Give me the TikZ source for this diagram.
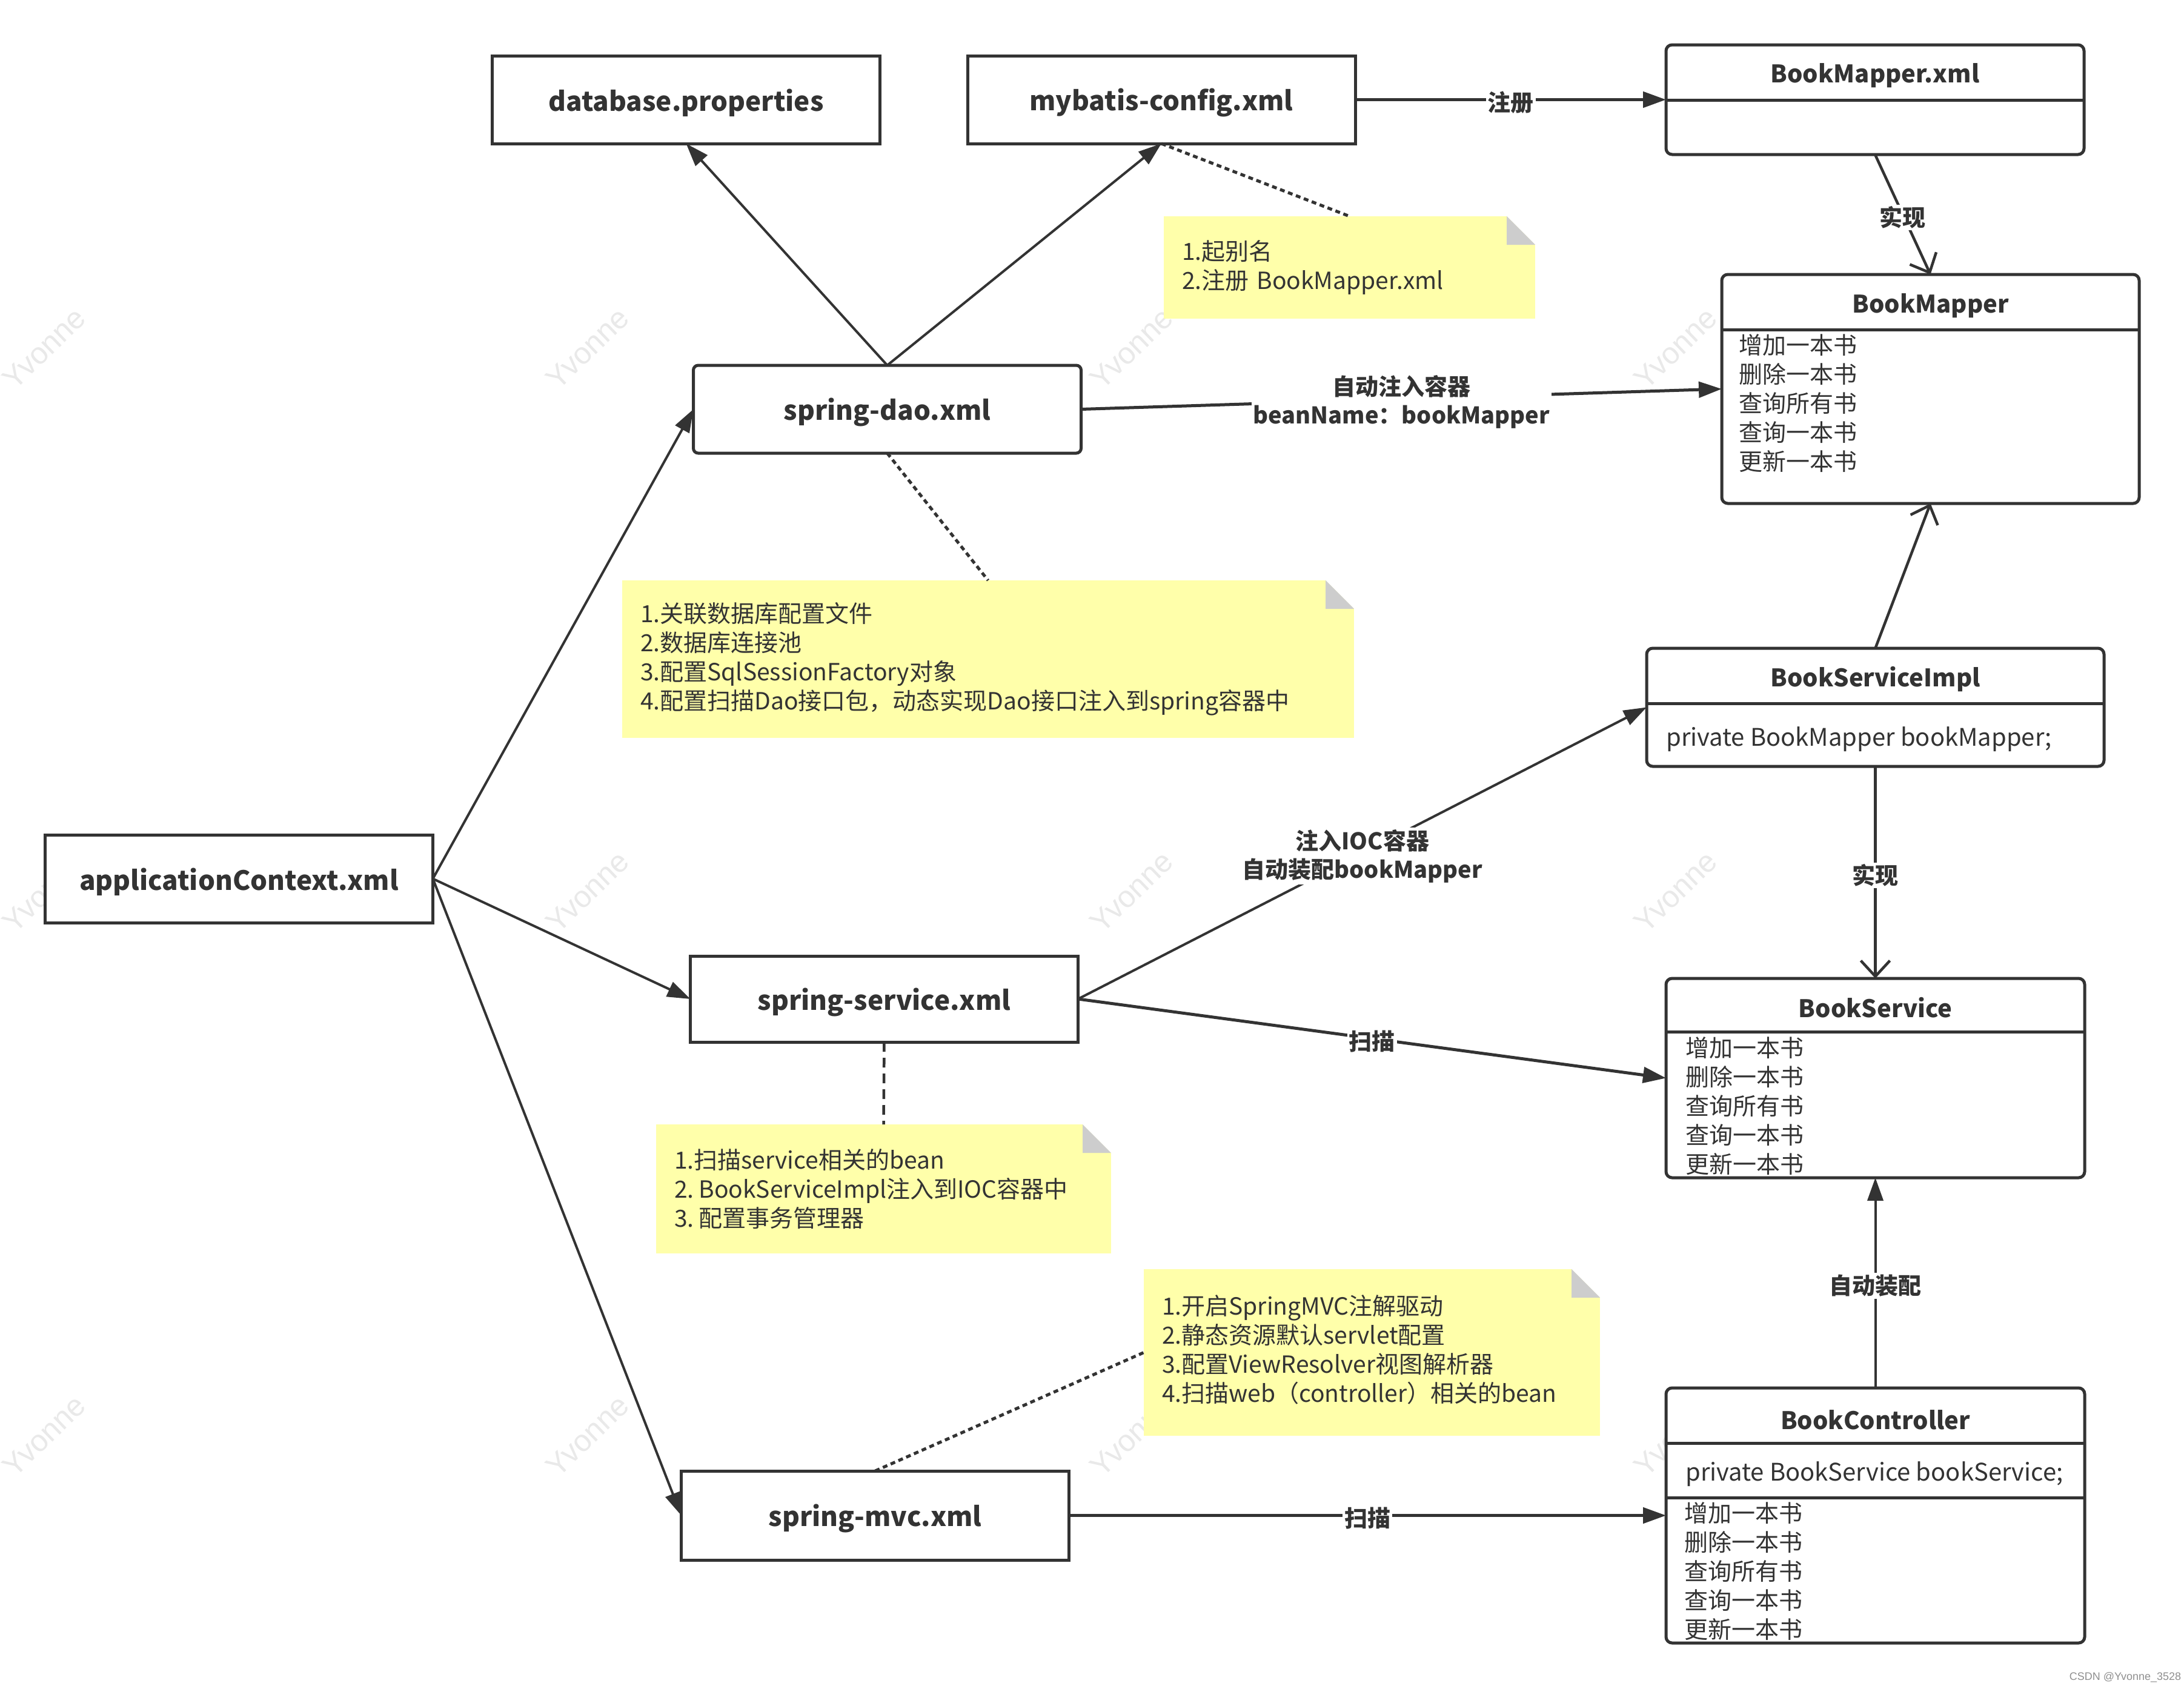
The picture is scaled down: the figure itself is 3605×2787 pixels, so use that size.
\documentclass[tikz,border=0pt]{standalone}
\usepackage{fontspec}
\setmainfont{Noto Sans CJK SC}
\newfontfamily\wmfont{Liberation Sans}
\usetikzlibrary{arrows.meta}
\definecolor{ink}{HTML}{333333}
\definecolor{noteyellow}{HTML}{FFFFAA}
\definecolor{foldgray}{HTML}{CDCDCD}
\definecolor{wmgray}{HTML}{E9E9E9}
\newcommand{\lowtext}[1]{\raisebox{-5pt}[\height][\depth]{#1}}
\begin{document}
\begin{tikzpicture}[x=1pt,y=-1pt,
  xmlbox/.style={draw=ink, line width=5pt, fill=white, minimum width=640pt, minimum height=145pt,
    inner sep=0pt, outer sep=0pt, font=\fontsize{44}{52}\selectfont\bfseries, text=ink},
  classbox/.style={draw=ink, line width=5pt, fill=white, rounded corners=10pt, inner sep=0pt, outer sep=0pt},
  ctitle/.style={font=\fontsize{40}{48}\selectfont\bfseries, text=ink, inner sep=0pt, yshift=-4pt},
  cfield/.style={font=\fontsize{40}{48}\selectfont, text=ink, inner sep=0pt, anchor=west, yshift=-5pt},
  citems/.style={font=\fontsize{39}{48}\selectfont, text=ink, align=left, anchor=west, inner sep=0pt},
  divider/.style={draw=ink, line width=5pt},
  notebox/.style={rectangle, inner sep=0pt, outer sep=0pt, inner xsep=30pt,
    font=\fontsize{39}{48}\selectfont, text=ink, align=left,
    path picture={
      \fill[noteyellow] (path picture bounding box.south west) rectangle (path picture bounding box.north east);
      \fill[white] ([xshift=-47pt]path picture bounding box.north east) -- (path picture bounding box.north east)
        -- ([yshift=-47pt]path picture bounding box.north east) -- cycle;
      \fill[foldgray] ([xshift=-47pt]path picture bounding box.north east) -- ([xshift=-47pt,yshift=-47pt]path picture bounding box.north east)
        -- ([yshift=-47pt]path picture bounding box.north east) -- cycle;}},
  arr/.style={draw=ink, line width=4pt, -{Triangle[length=38pt,width=26pt]}},
  thickarr/.style={arr, line width=5pt},
  openarr/.style={draw=ink, line width=4.5pt, -{Straight Barb[length=26pt,width=48pt]}},
  dots/.style={draw=ink, line width=5pt, dash pattern=on 8pt off 6pt},
  dashes/.style={draw=ink, line width=4.5pt, dash pattern=on 16pt off 10pt},
  elabel/.style={fill=white, inner sep=3pt, font=\fontsize{38}{47}\selectfont\bfseries, text=ink, align=center, yshift=-5pt},
  wmark/.style={rotate=44, text=wmgray, font=\wmfont\fontsize{50}{60}\selectfont, inner sep=0pt}
]
\useasboundingbox (0,0) rectangle (3605,2787);
\fill[white] (0,0) rectangle (3605,2787);

% watermarks
\foreach \wx in {73,970,1868,2766}{
  \foreach \wy in {575,1472,2370}{
    \node[wmark] (wm-\wx-\wy) at (\wx,\wy) {Yvonne};
  }
}

% xml boxes
\node[xmlbox] (db) at (1132.5,164.5) {\lowtext{database.properties}};
\node[xmlbox] (mybatis) at (1917,164.5) {\lowtext{mybatis-config.xml}};
\node[xmlbox, rounded corners=8pt] (dao) at (1464.5,675.5) {\lowtext{spring-dao.xml}};
\node[xmlbox] (ctx) at (394.5,1450.5) {\lowtext{applicationContext.xml}};
\node[xmlbox, minimum height=142pt] (service) at (1459.5,1649) {\lowtext{spring-service.xml}};
\node[xmlbox, minimum height=147pt] (mvc) at (1444.5,2501.5) {\lowtext{spring-mvc.xml}};

% BookMapper.xml
\node[classbox, minimum width=690pt, minimum height=181pt] (bmx) at (3095,164.5) {};
\draw[divider] ([yshift=-91pt]bmx.north west) -- ([yshift=-91pt]bmx.north east);
\node[ctitle] (bmxt) at (3095,121) {BookMapper.xml};

% BookMapper
\node[classbox, minimum width=689pt, minimum height=378pt] (bm) at (3186.5,642) {};
\draw[divider] ([yshift=-91pt]bm.north west) -- ([yshift=-91pt]bm.north east);
\node[ctitle] (bmt) at (3186.5,501) {BookMapper};
\node[citems] (bmi) at (2870,666) {增加一本书\\删除一本书\\查询所有书\\查询一本书\\更新一本书};

% BookServiceImpl
\node[classbox, minimum width=755pt, minimum height=195pt] (bsi) at (3095.5,1167.5) {};
\draw[divider] ([yshift=-91pt]bsi.north west) -- ([yshift=-91pt]bsi.north east);
\node[ctitle] (bsit) at (3095.5,1117) {BookServiceImpl};
\node[cfield] (bsif) at (2750,1215) {private BookMapper bookMapper;};

% BookService
\node[classbox, minimum width=691pt, minimum height=329pt] (bs) at (3095.5,1779.5) {};
\draw[divider] ([yshift=-88pt]bs.north west) -- ([yshift=-88pt]bs.north east);
\node[ctitle] (bst) at (3095.5,1659) {BookService};
\node[citems] (bsi2) at (2782,1826) {增加一本书\\删除一本书\\查询所有书\\查询一本书\\更新一本书};

% BookController
\node[classbox, minimum width=691pt, minimum height=421pt] (bc) at (3095.5,2501.5) {};
\draw[divider] ([yshift=-91pt]bc.north west) -- ([yshift=-91pt]bc.north east);
\draw[divider] ([yshift=-181pt]bc.north west) -- ([yshift=-181pt]bc.north east);
\node[ctitle] (bct) at (3095.5,2340) {BookController};
\node[cfield] (bcf) at (2782,2428) {private BookService bookService;};
\node[citems] (bci) at (2780,2594) {增加一本书\\删除一本书\\查询所有书\\查询一本书\\更新一本书};

% notes
\node[notebox, minimum width=613pt, minimum height=169pt, text width=553pt] (n1) at (2227.5,441.5)
  {1.起别名\\2.注册 BookMapper.xml};
\node[notebox, minimum width=1208pt, minimum height=260pt, text width=1148pt] (n2) at (1631,1088)
  {1.关联数据库配置文件\\2.数据库连接池\\3.配置SqlSessionFactory对象\\4.配置扫描Dao接口包，动态实现Dao接口注入到spring容器中};
\node[notebox, minimum width=751pt, minimum height=213pt, text width=691pt] (n3) at (1458.5,1962.5)
  {1.扫描service相关的bean\\2.\hspace{8pt}BookServiceImpl注入到IOC容器中\\3.\hspace{8pt}配置事务管理器};
\node[notebox, minimum width=753pt, minimum height=275pt, text width=693pt] (n4) at (2264.5,2232.5)
  {1.开启SpringMVC注解驱动\\2.静态资源默认servlet配置\\3.配置ViewResolver视图解析器\\4.扫描web（controller）相关的bean\\[-36pt]\mbox{}};

% dotted connectors to notes
\draw[dots] (mybatis.south) -- (n1.north);
\draw[dots] (dao.south) -- (n2.north);
\draw[dashes] (service.south) -- (n3.north);
\draw[dots] (mvc.north) -- (n4.west);

% arrows
\draw[arr] (ctx.east) -- (dao.west);
\draw[arr] (ctx.east) -- (service.west);
\draw[arr] (ctx.east) -- (mvc.west);
\draw[arr] (dao.north) -- (db.south);
\draw[arr] (dao.north) -- (mybatis.south);
\draw[thickarr] (mybatis.east) -- node[elabel] (l1) {注册} (bmx.west);
\draw[openarr] (bmx.south) -- node[elabel] (l2) {实现} (bm.north);
\draw[thickarr] (dao.east) -- node[elabel] (l3) {自动注入容器\\beanName：bookMapper} (bm.west);
\draw[arr] (service.east) -- node[elabel] (l4) {注入IOC容器\\自动装配bookMapper} (bsi.west);
\draw[thickarr] (service.east) -- node[elabel] (l5) {扫描} (bs.west);
\draw[openarr] (bsi.north) -- (bm.south);
\draw[openarr] (bsi.south) -- node[elabel] (l6) {实现} (bs.north);
\draw[arr] (bc.north) -- node[elabel] (l7) {自动装配} (bs.south);
\draw[thickarr] (mvc.east) -- node[elabel] (l8) {扫描} (bc.west);

\node[font=\wmfont\fontsize{18}{20}\selectfont, text=ink!55, inner sep=0pt] (csdn) at (3508,2769) {CSDN @Yvonne\_3528};
\end{tikzpicture}
\end{document}
